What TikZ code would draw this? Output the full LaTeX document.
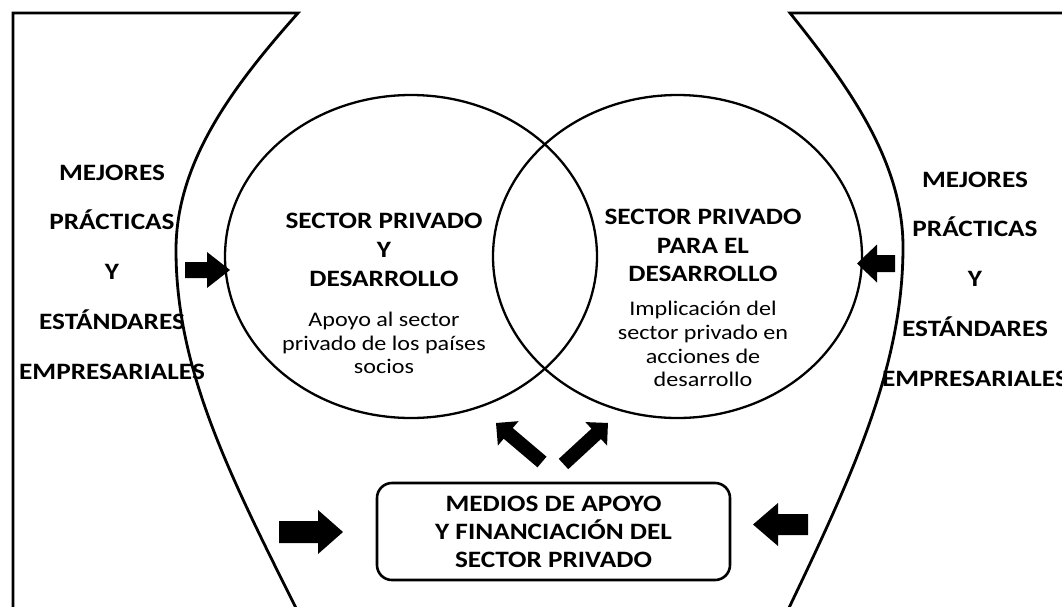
\documentclass[tikz,border=0pt]{standalone}
\usepackage{fontspec}
\setmainfont{Carlito}[FakeStretch=1.16]
\usetikzlibrary{shapes.geometric}
\newcommand\blkarrow[7]{%
  \fill[shift={(#1,#2)},rotate=#3] (0,{-#5}) -- ({#4-#7},{-#5}) -- ({#4-#7},{-#6}) -- (#4,0)
    -- ({#4-#7},#6) -- ({#4-#7},#5) -- (0,#5) -- cycle;}
\tikzset{
  outline/.style={line width=2.8pt, line join=miter},
  circ/.style={draw, ellipse, line width=2.3pt, inner sep=0pt, minimum height=323pt},
  headtxt/.style={font=\bfseries\fontsize{23.5}{28.8}\selectfont, align=center, inner sep=0pt},
  bodytxt/.style={font=\fontsize{20.8}{23.8}\selectfont, align=center, inner sep=0pt},
  sidetxt/.style={font=\bfseries\fontsize{23.5}{49.8}\selectfont, align=center, inner sep=0pt},
  medbox/.style={draw, rounded corners=15pt, line width=2.6pt, minimum width=353pt,
    minimum height=97pt, inner sep=0pt, font=\bfseries\fontsize{23.5}{28}\selectfont, align=center},
}
\begin{document}
\begin{tikzpicture}[x=1pt,y=-1pt]
\useasboundingbox (0,0) rectangle (1062,606);
% outer shapes
\draw[outline] (13,612) -- (13,13) -- (298,13)
  .. controls (236,83) and (176,160) .. (176,250)
  .. controls (176,370) and (230,476) .. (298,612);
\draw[outline] (1070,13) -- (790,13)
  .. controls (846,83) and (903,160) .. (903,247)
  .. controls (903,367) and (852,476) .. (787,612);
% circles
\node[circ, minimum width=372pt] (left) at (411,256.5) {};
\node[circ, minimum width=369pt] (right) at (677.5,256.5) {};
% circle texts
\node[headtxt] (lhead) at (384,250) {SECTOR PRIVADO\\Y\\DESARROLLO};
\node[bodytxt] (lbody) at (384,343) {Apoyo al sector\\privado de los países\\socios};
\node[headtxt] (rhead) at (703,245.5) {SECTOR PRIVADO\\PARA EL\\DESARROLLO};
\node[bodytxt] (rbody) at (703,344) {Implicación del\\sector privado en\\acciones de\\desarrollo};
% side texts
\node[sidetxt] (lside) at (112,272) {MEJORES\\PRÁCTICAS\\Y\\ESTÁNDARES\\EMPRESARIALES};
\node[sidetxt] (rside) at (975,279) {MEJORES\\PRÁCTICAS\\Y\\ESTÁNDARES\\EMPRESARIALES};
% box
\node[medbox] (medios) at (553.5,531.5) {MEDIOS DE APOYO\\Y FINANCIACIÓN DEL\\SECTOR PRIVADO};
% block arrows
\blkarrow{185}{270}{0}{45}{8}{18}{23}
\blkarrow{895}{263.5}{180}{38}{8.5}{19}{20}
\blkarrow{279}{532}{0}{64}{11}{22}{25}
\blkarrow{808}{524.5}{180}{55}{10.5}{21.5}{25}
\blkarrow{542}{462}{139.7}{60.3}{7}{16}{16}
\blkarrow{563.5}{464}{42.7}{60.5}{7}{16}{16}
\end{tikzpicture}
\end{document}
